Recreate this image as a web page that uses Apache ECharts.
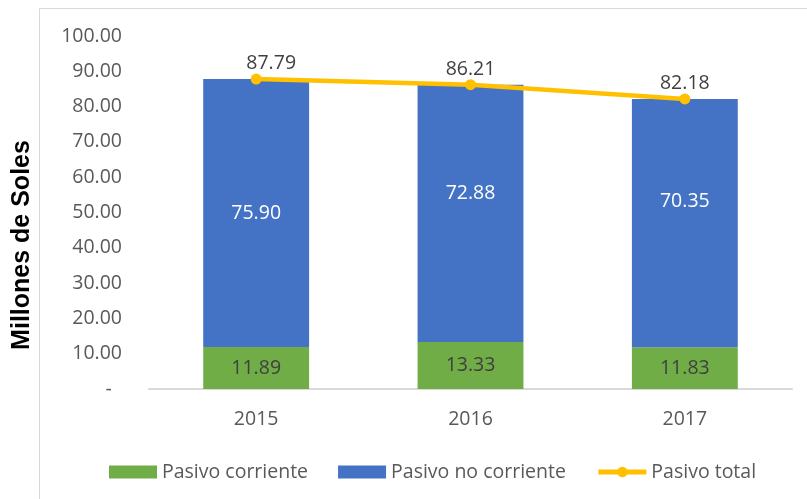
<!DOCTYPE html>
<html>
<head>
<meta charset="utf-8">
<script src="https://cdn.jsdelivr.net/npm/echarts@6/dist/echarts.min.js"></script>
<style>html,body{margin:0;padding:0;background:#fff}#c{width:807px;height:499px}</style>
</head>
<body>
<div id="c"></div>
<script>
const categories = ['2015', '2016', '2017'];
const pasivoCorriente = [11.89, 13.33, 11.83];
const pasivoNoCorriente = [75.90, 72.88, 70.35];
const pasivoTotal = [87.79, 86.21, 82.18];
const seriesNames = ['Pasivo corriente', 'Pasivo no corriente', 'Pasivo total'];
const yAxisTitle = 'Millones de Soles';
const yMin = 0, yMax = 100, yStep = 10;

const FONT = '"Open Sans", sans-serif';
const chart = echarts.init(document.getElementById('c'), null, {renderer: 'canvas'});

const blueOffsets = [[0, 0], [0, -20], [0, -22]];
const totalOffsets = [[15, 0], [0, 0], [0, 0]];

chart.setOption({
  animation: false,
  backgroundColor: '#ffffff',
  grid: {left: 149, right: 15, top: 36, bottom: 110, containLabel: false},
  graphic: [
    {type: 'rect', shape: {x: 39.5, y: 8.5, width: 900, height: 700}, style: {fill: 'none', stroke: '#d9d9d9', lineWidth: 1}, silent: true},
    {type: 'text', x: 22, y: 245, rotation: Math.PI / 2,
     style: {text: yAxisTitle, font: 'bold 25px "Liberation Sans", Arial, sans-serif', fill: '#000000', align: 'center', verticalAlign: 'middle'}}
  ],
  legend: {
    left: 104, top: 457, itemGap: 30, itemWidth: 48, itemHeight: 13, itemTextGap: 6,
    textStyle: {fontFamily: FONT, fontSize: 19.5, color: '#595959'},
    data: [
      {name: seriesNames[0], icon: 'rect'},
      {name: seriesNames[1], icon: 'rect'},
      {name: seriesNames[2], lineStyle: {width: 5, color: '#FFC000'}}
    ]
  },
  xAxis: {
    type: 'category', data: categories,
    axisLine: {lineStyle: {color: '#d9d9d9', width: 2}},
    axisTick: {show: false},
    axisLabel: {fontFamily: FONT, fontSize: 19.5, color: '#595959', margin: 20}
  },
  yAxis: {
    type: 'value', min: yMin, max: yMax, interval: yStep,
    axisLine: {show: false}, axisTick: {show: false}, splitLine: {show: false},
    axisLabel: {fontFamily: FONT, fontSize: 19.5, color: '#595959', margin: 27,
      formatter: v => v === 0 ? '-  ' : v.toFixed(2)}
  },
  series: [
    {
      name: seriesNames[0], type: 'bar', stack: 'p', barWidth: '49.4%',
      itemStyle: {color: '#70AD47'},
      label: {show: true, position: 'inside', fontFamily: FONT, fontSize: 19.5, color: '#404040',
        formatter: p => p.value.toFixed(2)},
      data: pasivoCorriente
    },
    {
      name: seriesNames[1], type: 'bar', stack: 'p', barWidth: '49.4%',
      itemStyle: {color: '#4472C4'},
      label: {show: true, position: 'inside', fontFamily: FONT, fontSize: 19.5, color: '#ffffff',
        formatter: p => p.value.toFixed(2)},
      data: pasivoNoCorriente.map((v, i) => ({value: v, label: {offset: blueOffsets[i]}}))
    },
    {
      name: seriesNames[2], type: 'line', symbol: 'circle', symbolSize: 11,
      lineStyle: {color: '#FFC000', width: 4.5},
      itemStyle: {color: '#FFC000'},
      label: {show: true, position: 'top', distance: 0, fontFamily: FONT, fontSize: 19.5, color: '#404040',
        formatter: p => p.value.toFixed(2)},
      data: pasivoTotal.map((v, i) => ({value: v, label: {offset: totalOffsets[i]}})),
      z: 5
    }
  ]
});
</script>
</body>
</html>
